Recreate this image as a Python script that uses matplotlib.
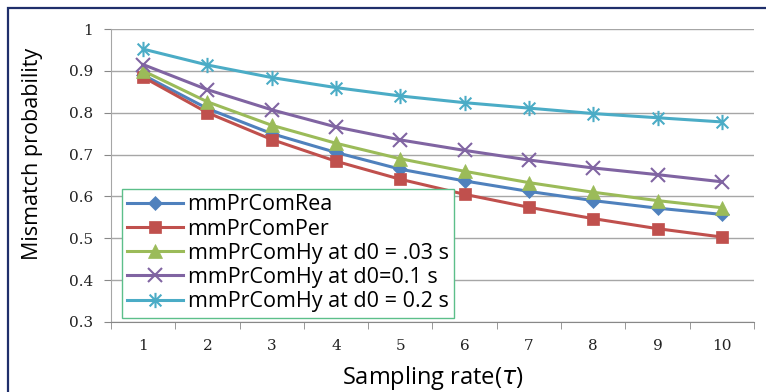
import numpy as np
import matplotlib.pyplot as plt
from matplotlib.path import Path
from matplotlib.patches import Rectangle

# sampling rate (tau)
rates = [1, 2, 3, 4, 5, 6, 7, 8, 9, 10]

mm_rea = [0.890, 0.810, 0.750, 0.705, 0.665, 0.637, 0.612, 0.590, 0.572, 0.557]
mm_per = [0.885, 0.800, 0.736, 0.684, 0.641, 0.605, 0.574, 0.547, 0.523, 0.503]
mm_hy_003 = [0.900, 0.826, 0.770, 0.727, 0.690, 0.660, 0.633, 0.610, 0.590, 0.573]
mm_hy_01 = [0.915, 0.855, 0.807, 0.766, 0.735, 0.710, 0.687, 0.668, 0.652, 0.635]
mm_hy_02 = [0.952, 0.914, 0.884, 0.860, 0.840, 0.824, 0.811, 0.798, 0.788, 0.778]

labels = ['mmPrComRea', 'mmPrComPer', 'mmPrComHy at d0 = .03 s',
          'mmPrComHy at d0=0.1 s', 'mmPrComHy at d0 = 0.2 s']
colors = ['#4f81bd', '#c0504d', '#9bbb59', '#8064a2', '#4bacc6']

# excel style asterisk marker
star = Path([(-1, -1), (1, 1), (-1, 1), (1, -1), (0, -1.3), (0, 1.3)],
            [Path.MOVETO, Path.LINETO, Path.MOVETO, Path.LINETO, Path.MOVETO, Path.LINETO])

fig = plt.figure(figsize=(7.66, 3.92), dpi=100)
ax = fig.add_axes([0.1449, 0.1786, 0.8394, 0.7474])

# dark outer frame (only top/left visible)
fig.patches.append(Rectangle((8 / 766, -0.2), 1.2, 1 - 8 / 392 + 0.2, transform=fig.transFigure,
                             fill=False, edgecolor='#1f2f6b', lw=1.6, clip_on=False))

series = [mm_rea, mm_per, mm_hy_003, mm_hy_01, mm_hy_02]
markers = ['D', 's', '^', 'x', star]
msizes = [7, 9, 10, 10, 11]
for vals, lab, c, m, ms in zip(series, labels, colors, markers, msizes):
    ax.plot(rates, vals, color=c, lw=2.2, marker=m, markersize=ms,
            markeredgewidth=1.5 if m in ('x',) or m is star else 0.5,
            markerfacecolor=c, markeredgecolor=c, label=lab)

ax.set_xlim(0.5, 10.5)
ax.set_ylim(0.3, 1.0)
ax.set_yticks(np.arange(0.3, 1.01, 0.1))
ax.set_yticklabels(['0.3', '0.4', '0.5', '0.6', '0.7', '0.8', '0.9', '1'])
ax.set_xticks(rates)
ax.set_xticks(np.arange(0.5, 10.6, 1), minor=True)
ax.tick_params(axis='x', which='major', length=0, pad=12)
ax.tick_params(axis='x', which='minor', length=5, color='#888888')
ax.tick_params(axis='y', length=5, color='#888888', pad=8)
for t in ax.get_xticklabels() + ax.get_yticklabels():
    t.set_family('DejaVu Serif')
    t.set_fontsize(11)
    t.set_color('#222222')

ax.grid(axis='y', color='#a6a6a6', lw=1)
ax.set_axisbelow(True)
for s in ['top', 'right']:
    ax.spines[s].set_visible(False)
ax.spines['left'].set_color('#a6a6a6')
ax.spines['bottom'].set_color('#888888')

ax.set_ylabel('Mismatch probability', fontsize=15.5, family='Open Sans')
ax.yaxis.set_label_coords(-0.106, 0.573)
ax.set_xlabel(r'Sampling rate($\tau$)', fontsize=17, family='Open Sans', labelpad=8)

leg = ax.legend(loc='lower left', bbox_to_anchor=(0.017, 0.015), fancybox=False,
                prop={'family': 'Open Sans', 'size': 15.5}, handlelength=2.6,
                handletextpad=0.2, labelspacing=0.15, borderpad=0.25, borderaxespad=0,
                framealpha=1)
leg.get_frame().set_edgecolor('#5cbf8a')
leg.get_frame().set_linewidth(1)

fig.savefig('out.png', dpi=100)
